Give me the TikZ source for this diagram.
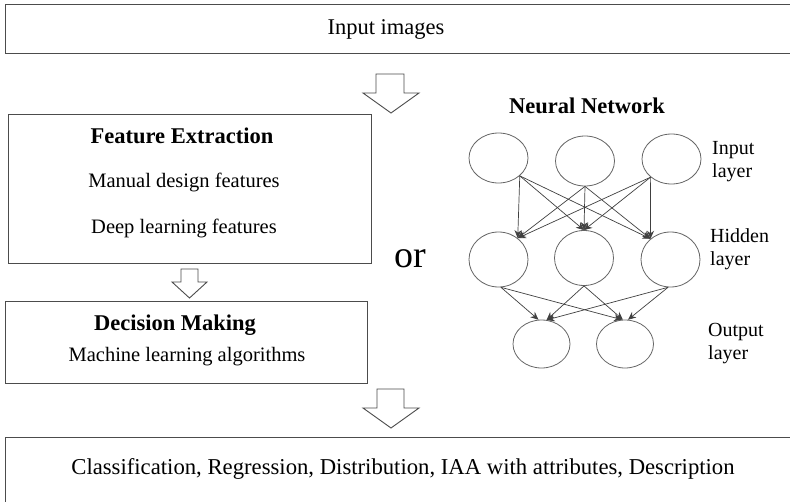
\documentclass[tikz,border=0pt]{standalone}
\usepackage{fontspec}
\setmainfont{Liberation Serif}
\usetikzlibrary{arrows.meta,shapes.geometric}
\begin{document}
\begin{tikzpicture}[x=1pt,y=-1pt,
  box/.style={draw=black!70, line width=1pt, inner sep=0pt},
  neuron/.style={draw=black!60, ellipse, line width=0.8pt, minimum width=59pt, inner sep=0pt},
  conn/.style={draw=black!75, line width=0.7pt, -{Stealth[length=8pt,width=7pt]}},
  blockarrow/.style={draw=black!70, line width=0.9pt, fill=white, line join=miter},
  txt/.style={inner sep=0pt, font=\fontsize{20.5}{24}\selectfont},
  bigtxt/.style={inner sep=0pt, font=\fontsize{22.5}{26}\selectfont},
  ttl/.style={inner sep=0pt, font=\fontsize{22.5}{26}\selectfont\bfseries},
  lbl/.style={inner sep=0pt, align=left, font=\fontsize{20}{23}\selectfont}
]
\fill[white] (0,0) rectangle (790,501);
\clip (0,0) rectangle (790,501);
\useasboundingbox (0,0) rectangle (790,501);

% top box
\node[box, minimum width=800pt, minimum height=49pt, anchor=north west] (inbox) at (5,4) {};
\node[bigtxt] (intext) at (386,29) {Input images};

% block arrow 1
\draw[blockarrow] (376,74) -- (404,74) -- (404,93) -- (419,93) -- (391,113) -- (363,93) -- (376,93) -- cycle;

% feature extraction
\node[box, minimum width=363pt, minimum height=149pt, anchor=north west] (fe) at (8,114) {};
\node[ttl] (fetitle) at (182,136) {Feature Extraction};
\node[txt] (fe1) at (184,182) {Manual design features};
\node[txt] (fe2) at (184,228) {Deep learning features};

% block arrow 2
\draw[blockarrow] (181,269) -- (198,269) -- (198,282) -- (207,282) -- (189.5,298) -- (172,282) -- (181,282) -- cycle;

% decision making
\node[box, minimum width=362pt, minimum height=82pt, anchor=north west] (dm) at (5,301) {};
\node[ttl] (dmtitle) at (175,325) {Decision Making};
\node[txt] (dm1) at (187,357) {Machine learning algorithms};

% or
\node[inner sep=0pt, font=\fontsize{38}{40}\selectfont] (or) at (410,259) {or};

% block arrow 3
\draw[blockarrow] (377,389) -- (404,389) -- (404,408) -- (419,408) -- (391,428) -- (363,408) -- (377,408) -- cycle;

% bottom box
\node[box, minimum width=800pt, minimum height=100pt, anchor=north west] (outbox) at (5,437) {};
\node[inner sep=0pt, font=\fontsize{22.7}{26}\selectfont] (outtext) at (403,469) {Classification, Regression, Distribution, IAA with attributes, Description};

% neural network
\node[ttl] (nn) at (587,106) {Neural Network};

\node[neuron, minimum height=50pt] (i1) at (498.5,158) {};
\node[neuron, minimum height=50pt] (i2) at (585,161) {};
\node[neuron, minimum height=50pt] (i3) at (671.5,159) {};
\node[neuron, minimum height=55pt] (h1) at (498.5,259.5) {};
\node[neuron, minimum height=55pt] (h2) at (584,258) {};
\node[neuron, minimum height=55pt] (h3) at (670.5,259.5) {};
\node[neuron, minimum width=57pt, minimum height=48pt] (o1) at (541.5,344) {};
\node[neuron, minimum width=57pt, minimum height=48pt] (o2) at (625,344) {};

\foreach \s/\a in {i1/-40, i2/-90, i3/-139}{
  \draw[conn] (\s.\a) -- (h1.48);
  \draw[conn] (\s.\a) -- (h2.90);
  \draw[conn] (\s.\a) -- (h3.134);
}
\draw[conn] (h1.-85) -- (o1.97);
\draw[conn] (h1.-85) -- (o2.97);
\draw[conn] (h2.-90) -- (o1.78);
\draw[conn] (h2.-90) -- (o2.95);
\draw[conn] (h3.-95) -- (o1.78);
\draw[conn] (h3.-95) -- (o2.83);

\node[lbl, anchor=west] (lin) at (712,162) {Input\\layer};
\node[lbl, anchor=west] (lhid) at (710,249) {Hidden\\layer};
\node[lbl, anchor=west] (lout) at (708,344) {Output\\layer};
\end{tikzpicture}
\end{document}
